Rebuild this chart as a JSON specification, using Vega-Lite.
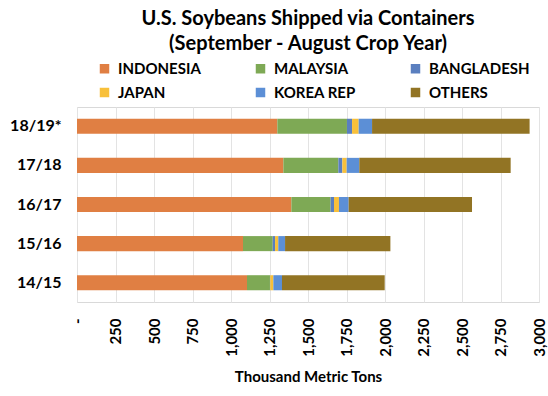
{
  "$schema": "https://vega.github.io/schema/vega-lite/v6.json",
  "autosize": {"type": "none"},
  "width": 462,
  "height": 195,
  "padding": {"left": 77, "top": 107, "right": 9, "bottom": 94},
  "background": "white",
  "title": {
    "text": ["U.S. Soybeans Shipped via Containers", "(September - August Crop Year)"],
    "font": "Lato",
    "fontSize": 20,
    "fontWeight": "bold",
    "color": "#000000",
    "anchor": "middle",
    "lineHeight": 25,
    "offset": 7
  },
  "config": {
    "view": {"stroke": "#d9d9d9"},
    "font": "Lato"
  },
  "data": {
    "values": [
      {"year": "18/19*", "country": "INDONESIA", "order": 1, "value": 1301},
      {"year": "18/19*", "country": "MALAYSIA", "order": 2, "value": 452},
      {"year": "18/19*", "country": "BANGLADESH", "order": 3, "value": 33},
      {"year": "18/19*", "country": "JAPAN", "order": 4, "value": 43},
      {"year": "18/19*", "country": "KOREA REP", "order": 5, "value": 87},
      {"year": "18/19*", "country": "OTHERS", "order": 6, "value": 1023},
      {"year": "17/18", "country": "INDONESIA", "order": 1, "value": 1340},
      {"year": "17/18", "country": "MALAYSIA", "order": 2, "value": 357},
      {"year": "17/18", "country": "BANGLADESH", "order": 3, "value": 26},
      {"year": "17/18", "country": "JAPAN", "order": 4, "value": 28},
      {"year": "17/18", "country": "KOREA REP", "order": 5, "value": 82},
      {"year": "17/18", "country": "OTHERS", "order": 6, "value": 983},
      {"year": "16/17", "country": "INDONESIA", "order": 1, "value": 1392},
      {"year": "16/17", "country": "MALAYSIA", "order": 2, "value": 255},
      {"year": "16/17", "country": "BANGLADESH", "order": 3, "value": 22},
      {"year": "16/17", "country": "JAPAN", "order": 4, "value": 32},
      {"year": "16/17", "country": "KOREA REP", "order": 5, "value": 63},
      {"year": "16/17", "country": "OTHERS", "order": 6, "value": 801},
      {"year": "15/16", "country": "INDONESIA", "order": 1, "value": 1078},
      {"year": "15/16", "country": "MALAYSIA", "order": 2, "value": 193},
      {"year": "15/16", "country": "BANGLADESH", "order": 3, "value": 15},
      {"year": "15/16", "country": "JAPAN", "order": 4, "value": 21},
      {"year": "15/16", "country": "KOREA REP", "order": 5, "value": 44},
      {"year": "15/16", "country": "OTHERS", "order": 6, "value": 684},
      {"year": "14/15", "country": "INDONESIA", "order": 1, "value": 1104},
      {"year": "14/15", "country": "MALAYSIA", "order": 2, "value": 149},
      {"year": "14/15", "country": "BANGLADESH", "order": 3, "value": 2},
      {"year": "14/15", "country": "JAPAN", "order": 4, "value": 20},
      {"year": "14/15", "country": "KOREA REP", "order": 5, "value": 56},
      {"year": "14/15", "country": "OTHERS", "order": 6, "value": 667}
    ]
  },
  "mark": {"type": "bar"},
  "encoding": {
    "y": {
      "field": "year",
      "type": "nominal",
      "sort": ["18/19*", "17/18", "16/17", "15/16", "14/15"],
      "scale": {"paddingInner": 0.615, "paddingOuter": 0.3},
      "axis": {
        "title": null,
        "domain": false,
        "ticks": false,
        "labelFont": "Lato",
        "labelFontSize": 16,
        "labelFontWeight": "bold",
        "labelColor": "#000000",
        "labelPadding": 16
      }
    },
    "x": {
      "field": "value",
      "type": "quantitative",
      "stack": "zero",
      "scale": {"domain": [0, 3000], "nice": false},
      "axis": {
        "title": "Thousand Metric Tons",
        "titleFont": "Lato",
        "titleFontSize": 15,
        "titleFontWeight": "bold",
        "titleColor": "#000000",
        "titlePadding": 13,
        "values": [0, 250, 500, 750, 1000, 1250, 1500, 1750, 2000, 2250, 2500, 2750, 3000],
        "labelExpr": "datum.value == 0 ? '-' : format(datum.value, ',')",
        "labelAngle": -90,
        "labelAlign": "right",
        "labelBaseline": "middle",
        "labelFont": "Lato",
        "labelFontSize": 15,
        "labelFontWeight": "bold",
        "labelColor": "#000000",
        "labelPadding": 16,
        "ticks": false,
        "domain": false,
        "grid": true,
        "gridColor": "#e3e3e3",
        "labelOverlap": false,
        "labelFlush": false
      }
    },
    "color": {
      "field": "country",
      "type": "nominal",
      "scale": {
        "domain": ["INDONESIA", "MALAYSIA", "BANGLADESH", "JAPAN", "KOREA REP", "OTHERS"],
        "range": ["#E07F43", "#7EA955", "#5A7FBF", "#F8C03A", "#5C8FD6", "#927424"]
      },
      "legend": {
        "title": null,
        "orient": "none",
        "legendX": 20,
        "legendY": -46,
        "direction": "horizontal",
        "columns": 3,
        "columnPadding": 52,
        "rowPadding": 8,
        "symbolType": "square",
        "symbolSize": 90,
        "symbolStrokeWidth": 0,
        "labelFont": "Lato",
        "labelFontSize": 15,
        "labelFontWeight": "bold",
        "labelColor": "#000000",
        "labelOffset": 6
      }
    },
    "order": {"field": "order", "type": "quantitative"}
  }
}
